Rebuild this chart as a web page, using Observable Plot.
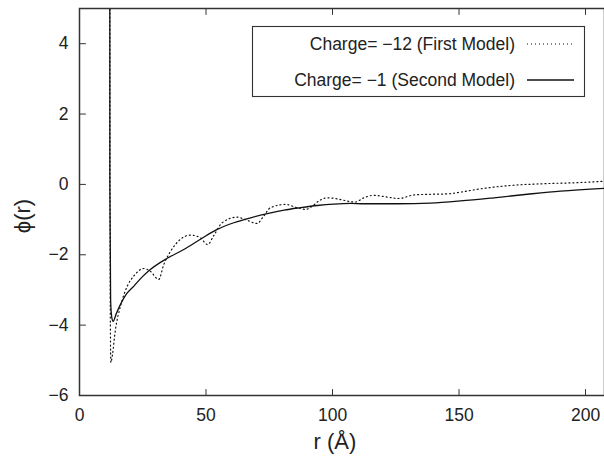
<!DOCTYPE html>
<html>
<head>
<meta charset="utf-8">
<script src="https://cdn.jsdelivr.net/npm/d3@7"></script>
<script src="https://cdn.jsdelivr.net/npm/@observablehq/plot@0.6"></script>
<style>
  html, body { margin: 0; padding: 0; background: #fff; }
  #chart { position: relative; width: 604px; height: 461px; }
</style>
</head>
<body>
<div id="chart"></div>
<script>
// Series 1: Charge = -12 (First Model), dotted
const r1 = [11.9, 12.05, 12.2, 12.4, 13.0, 14.2, 16.2, 18.9, 21.5, 25.4, 28.0, 31.3, 33.3, 36.0, 39.9, 43.9, 47.8, 50.6, 53.1, 56.4, 62.3, 65.6, 70.2, 72.8, 75.5, 81.4, 86.0, 89.3, 92.0, 94.6, 97.9, 103.2, 107.0, 109.0, 112.4, 116.3, 121.6, 126.2, 132.1, 138.7, 145.3, 150.6, 157.2, 170.4, 183.5, 196.7, 207.5];
const phi1 = [30, 0, -4.0, -5.06, -4.85, -4.13, -3.46, -2.89, -2.6, -2.39, -2.47, -2.7, -2.28, -1.9, -1.56, -1.44, -1.52, -1.71, -1.45, -1.09, -0.93, -1.0, -1.11, -0.9, -0.66, -0.57, -0.66, -0.71, -0.62, -0.47, -0.38, -0.43, -0.49, -0.5, -0.38, -0.31, -0.36, -0.4, -0.3, -0.28, -0.27, -0.22, -0.14, -0.03, 0.02, 0.05, 0.09];

// Series 2: Charge = -1 (Second Model), solid
const r2 = [11.9, 12.0, 12.3, 12.8, 13.3, 14.5, 16.2, 18.5, 21.5, 24.5, 28.0, 34.7, 41.2, 47.8, 54.4, 61.0, 67.6, 74.2, 80.8, 87.4, 94.0, 100.5, 107.0, 112.4, 125.6, 138.7, 150.6, 163.8, 177.0, 190.1, 207.5];
const phi2 = [30, 0, -3.3, -3.8, -3.89, -3.68, -3.41, -3.12, -2.89, -2.65, -2.42, -2.1, -1.85, -1.56, -1.28, -1.09, -0.95, -0.83, -0.73, -0.66, -0.6, -0.56, -0.54, -0.55, -0.55, -0.53, -0.47, -0.38, -0.28, -0.19, -0.11];

const xTicks = [0, 50, 100, 150, 200];
const yTicks = [-6, -4, -2, 0, 2, 4];
const legendLabels = ["Charge= \u221212 (First Model)", "Charge= \u22121 (Second Model)"];
const xLabel = "r (\u00C5)";
const yLabel = "\u03D5(r)";

const s1 = r1.map((r, i) => ({r, phi: phi1[i]}));
const s2 = r2.map((r, i) => ({r, phi: phi2[i]}));

const W = 604, H = 461;
const mL = 79, mT = 8, mR = 0, mB = 66;
const font = "Liberation Sans, Arial, Helvetica, sans-serif";
const axisColor = "#333";
const dots = "1,3";
const tickShape = {draw(context, l) { context.moveTo(0, 0); context.lineTo(0, -l); }};

const plot = Plot.plot({
  width: W, height: H,
  marginLeft: mL, marginTop: mT, marginRight: mR, marginBottom: mB,
  style: {fontFamily: font, fontSize: "17.5px", color: "#222", background: "#fff"},
  x: {domain: [0, 207.5], ticks: xTicks, label: null},
  y: {domain: [-6, 5], ticks: yTicks, label: null},
  marks: [
    Plot.line(s2, {x: "r", y: "phi", stroke: "#111", strokeWidth: 1.3, curve: "monotone-x", clip: true}),
    Plot.line(s1, {x: "r", y: "phi", stroke: "#111", strokeWidth: 1.2, strokeDasharray: dots, curve: "monotone-x", clip: true}),
    Plot.frame({stroke: axisColor, strokeWidth: 1.5}),
    // inward tick marks
    Plot.vector(xTicks, {x: d => d, y: -6, length: 6, rotate: 0, anchor: "start", shape: tickShape, stroke: axisColor, strokeWidth: 1}),
    Plot.vector(xTicks, {x: d => d, y: 5, length: 6, rotate: 180, anchor: "start", shape: tickShape, stroke: axisColor, strokeWidth: 1}),
    Plot.vector(yTicks, {x: 0, y: d => d, length: 6, rotate: 90, anchor: "start", shape: tickShape, stroke: axisColor, strokeWidth: 1}),
    Plot.axisX({ticks: xTicks, tickSize: 0, tickPadding: 13, fill: "#222"}),
    Plot.axisY({ticks: yTicks, tickSize: 0, tickPadding: 11, fill: "#222"})
  ]
});

document.getElementById("chart").appendChild(plot);

const svg = d3.select(plot);
// axis titles
svg.append("text").attr("x", 335).attr("y", 449).attr("text-anchor", "middle")
  .attr("font-family", font).attr("font-size", 22).attr("fill", "#222").text(xLabel);
svg.append("text").attr("transform", "translate(30,216) rotate(-90)").attr("text-anchor", "middle")
  .attr("font-family", font).attr("font-size", 22).attr("fill", "#222").text(yLabel);

// legend box
const lg = svg.append("g");
lg.append("rect").attr("x", 252.5).attr("y", 26.5).attr("width", 332).attr("height", 70)
  .attr("fill", "#fff").attr("stroke", axisColor).attr("stroke-width", 1.1);
const rows = [{y: 44, dash: dots}, {y: 80, dash: null}];
rows.forEach((row, i) => {
  lg.append("text").attr("x", 515).attr("y", row.y).attr("dy", "0.35em").attr("text-anchor", "end")
    .attr("font-family", font).attr("font-size", 17.5).attr("fill", "#222").text(legendLabels[i]);
  const ln = lg.append("line").attr("x1", 527).attr("x2", 574).attr("y1", row.y).attr("y2", row.y)
    .attr("stroke", "#111").attr("stroke-width", i === 0 ? 1.2 : 1.3);
  if (row.dash) ln.attr("stroke-dasharray", row.dash);
});
</script>
</body>
</html>
